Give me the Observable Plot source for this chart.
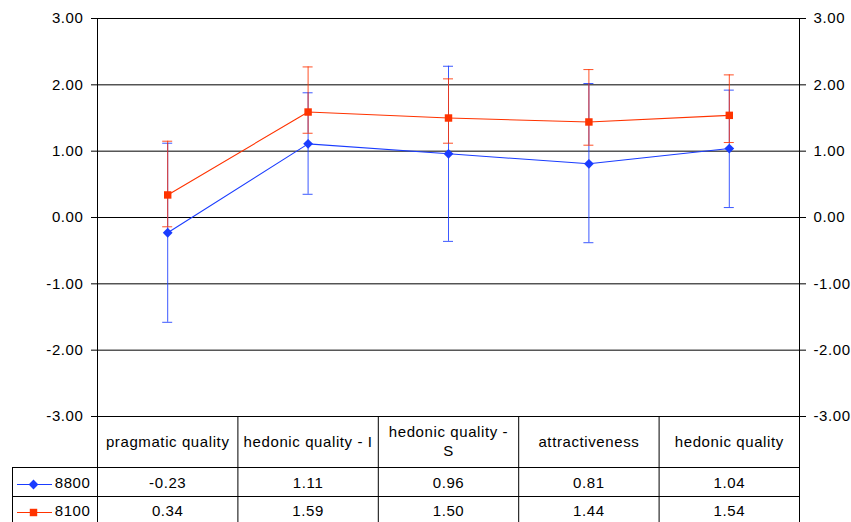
<!DOCTYPE html>
<html>
<head>
<meta charset="utf-8">
<script src="https://cdn.jsdelivr.net/npm/d3@7"></script>
<script src="https://cdn.jsdelivr.net/npm/@observablehq/plot@0.6"></script>
<style>
  html, body { margin: 0; padding: 0; background: #fff; }
  #chart { width: 851px; height: 522px; overflow: hidden; }
</style>
</head>
<body>
<div id="chart"></div>
<script>
// ---- data ----
const categories = ["pragmatic quality", "hedonic quality - I", "hedonic quality - S", "attractiveness", "hedonic quality"];
const headerLabels = ["pragmatic quality", "hedonic quality - I", "hedonic quality -\nS", "attractiveness", "hedonic quality"];
const seriesNames = ["8800", "8100"];
const values8800 = [-0.23, 1.11, 0.96, 0.81, 1.04];
const values8100 = [0.34, 1.59, 1.50, 1.44, 1.54];
const low8800 = [-1.58, 0.35, -0.36, -0.38, 0.15];
const high8800 = [1.12, 1.88, 2.28, 2.02, 1.92];
const low8100 = [-0.14, 1.27, 1.12, 1.09, 1.13];
const high8100 = [1.15, 2.27, 2.09, 2.23, 2.15];
const yTicks = [-3, -2, -1, 0, 1, 2, 3];
const colBounds = [0, 1, 2, 3, 4, 5];

// ---- style ----
const BLUE = "#1a3cff";
const RED = "#ff3300";
const colors = {"8800": BLUE, "8100": RED};
const symbols = {"8800": "diamond2", "8100": "square"};

const W = 851, H = 522;
const mTop = 18, mBottom = 106, mLeft = 97, mRight = 52;

function makeRows(name, vals, lo, hi) {
  return categories.map((c, i) => ({series: name, cat: c, pos: i + 0.5, value: vals[i], low: lo[i], high: hi[i]}));
}
const rows8800 = makeRows("8800", values8800, low8800, high8800);
const rows8100 = makeRows("8100", values8100, low8100, high8100);
const fmt = d => d.toFixed(2); // ASCII hyphen-minus like the reference

function seriesMarks(rows, name) {
  const c = colors[name];
  return [
    Plot.ruleX(rows, {x: "pos", y1: "low", y2: "high", stroke: c, strokeOpacity: 0.85}),
    Plot.ruleY(rows, {y: "high", x1: "pos", x2: "pos", insetLeft: -5, insetRight: -5, stroke: c, strokeOpacity: 0.85}),
    Plot.ruleY(rows, {y: "low", x1: "pos", x2: "pos", insetLeft: -5, insetRight: -5, stroke: c, strokeOpacity: 0.85}),
    Plot.line(rows, {x: "pos", y: "value", stroke: c, strokeWidth: 1.1}),
    Plot.dot(rows, {x: "pos", y: "value", symbol: () => symbols[name], fill: c, stroke: "none", r: name === "8800" ? 4.4 : 4.2})
  ];
}

function legendMarks(name, rowDy, lineDy) {
  const c = colors[name];
  return [
    Plot.ruleY([-3], {x1: 0, x2: 0, insetLeft: -80, insetRight: 45, dy: lineDy, stroke: c}),
    Plot.dot([name], {x: 0, y: -3, dx: -64, dy: lineDy, symbol: () => symbols[name], fill: c, stroke: "none", r: name === "8800" ? 4.4 : 4.2}),
    Plot.text([name], {x: 0, y: -3, dx: -7, dy: rowDy, text: d => d, textAnchor: "end", fill: "#000"})
  ];
}

const chart = Plot.plot({
  width: W,
  height: H,
  marginTop: mTop,
  marginBottom: mBottom,
  marginLeft: mLeft,
  marginRight: mRight,
  style: {fontFamily: "'Liberation Sans', Arial, sans-serif", fontSize: "15px", letterSpacing: "0.6px", background: "#fff", color: "#000"},
  x: {type: "linear", domain: [0, 5], axis: null},
  y: {domain: [-3, 3], axis: null},
  marks: [
    // gridlines
    Plot.ruleY(yTicks, {stroke: "#000"}),
    // axes
    Plot.axisY(yTicks, {anchor: "left", tickFormat: fmt, tickSize: 6, tickPadding: 8, stroke: "#000", fill: "#000"}),
    Plot.axisY(yTicks, {anchor: "right", tickFormat: fmt, tickSize: 6, tickPadding: 8, stroke: "#000", fill: "#000"}),
    // frame sides extend down through the data table
    Plot.ruleX([0, 5], {insetBottom: -mBottom, stroke: "#000"}),
    // table column separators
    Plot.ruleX(colBounds.slice(1, 5), {y1: -3, y2: -3, insetBottom: -mBottom, stroke: "#000"}),
    // legend box left edge
    Plot.ruleX([0], {y1: -3, y2: -3, insetTop: 51, insetBottom: -mBottom, dx: -85, stroke: "#000"}),
    // table row lines
    Plot.ruleY([-3], {x1: 0, x2: 5, insetLeft: -85, dy: 51, stroke: "#000"}),
    Plot.ruleY([-3], {x1: 0, x2: 5, insetLeft: -85, dy: 80, stroke: "#000"}),
    // header labels
    Plot.text(headerLabels, {x: (d, i) => i + 0.5, y: -3, dy: 24, text: d => d, lineHeight: 1.3, fill: "#000"}),
    // values
    Plot.text(values8800, {x: (d, i) => i + 0.5, y: -3, dy: 67, text: d => fmt(d), fill: "#000"}),
    Plot.text(values8100, {x: (d, i) => i + 0.5, y: -3, dy: 94.5, text: d => fmt(d), fill: "#000"}),
    // legend cells
    ...legendMarks("8800", 67, 68),
    ...legendMarks("8100", 94.5, 96),
    // series
    ...seriesMarks(rows8800, "8800"),
    ...seriesMarks(rows8100, "8100")
  ]
});
document.getElementById("chart").appendChild(chart);
</script>
</body>
</html>
